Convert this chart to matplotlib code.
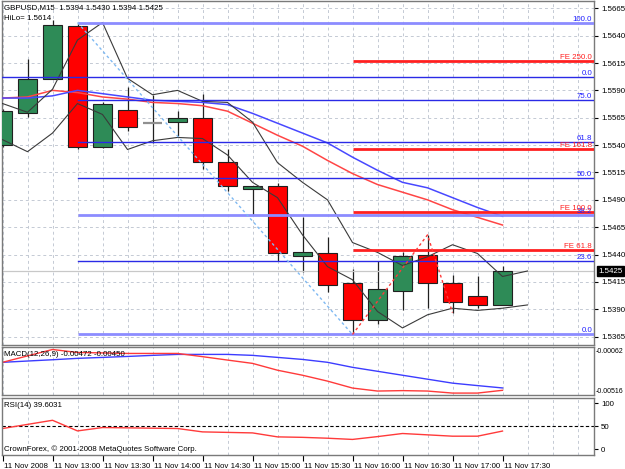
import matplotlib
matplotlib.use('Agg')
import matplotlib.pyplot as plt
from matplotlib.patches import Rectangle
from matplotlib.transforms import ScaledTranslation, blended_transform_factory

plt.rcParams['font.family'] = ['Liberation Sans', 'DejaVu Sans']

# ---------------- data ----------------
bar_times = ["12:30", "12:45", "13:00", "13:15", "13:30", "13:45", "14:00", "14:15",
             "14:30", "14:45", "15:00", "15:15", "15:30", "15:45", "16:00", "16:15",
             "16:30", "16:45", "17:00", "17:15", "17:30"]
opens = [1.5540, 1.5569, 1.5600, 1.5649, 1.5538, 1.5572, 1.5560, 1.5561, 1.5565, 1.5525, 1.5500,
         1.5503, 1.5439, 1.5441, 1.5414, 1.5380, 1.5407, 1.5440, 1.5414, 1.5402, 1.5394]
highs = [1.5573, 1.5619, 1.5654, 1.5652, 1.5579, 1.5593, 1.5586, 1.5571, 1.5587, 1.5536, 1.5503,
         1.5505, 1.5474, 1.5456, 1.5427, 1.5434, 1.5442, 1.5458, 1.5421, 1.5420, 1.5430]
lows = [1.5538, 1.5566, 1.5600, 1.5536, 1.5537, 1.5553, 1.5542, 1.5548, 1.5518, 1.5498, 1.5476,
        1.5434, 1.5424, 1.5406, 1.5367, 1.5377, 1.5389, 1.5391, 1.5387, 1.5391, 1.5394]
closes = [1.5571, 1.5600, 1.5650, 1.5538, 1.5578, 1.5557, 1.5560, 1.5565, 1.5525, 1.5503, 1.5503,
          1.5441, 1.5442, 1.5412, 1.5380, 1.5409, 1.5439, 1.5414, 1.5397, 1.5394, 1.5425]

ma_red = [1.5583, 1.5584, 1.5590, 1.5588, 1.5584, 1.5582, 1.5579, 1.5578, 1.5576, 1.5571, 1.5560,
          1.5549, 1.5539, 1.5526, 1.5514, 1.5504, 1.5497, 1.5490, 1.5481, 1.5474, 1.5467]
ma_blue = [1.5583, 1.5583, 1.5585, 1.5590, 1.5587, 1.5584, 1.5581, 1.5580, 1.5579, 1.5577, 1.5569,
           1.5560, 1.5551, 1.5542, 1.5529, 1.5517, 1.5506, 1.5501, 1.5492, 1.5483, 1.5475]
# envelope lines (one bar longer: shifted forward)
band_upper = [1.5578, 1.5570, 1.5591, 1.5636, 1.5652, 1.5601, 1.5586, 1.5590, 1.5580, 1.5579, 1.5561,
              1.5524, 1.5506, 1.5490, 1.5451, 1.5442, 1.5430, 1.5438, 1.5449, 1.5441, 1.5420, 1.5425]
band_lower = [1.5545, 1.5534, 1.5551, 1.5578, 1.5568, 1.5536, 1.5544, 1.5547, 1.5546, 1.5531, 1.5506,
              1.5492, 1.5458, 1.5429, 1.5417, 1.5388, 1.5373, 1.5385, 1.5391, 1.5389, 1.5391, 1.5394]

macd_main = [-0.00210, -0.00150, -0.00090, -0.00118, -0.00122, -0.00127, -0.00127, -0.00127,
             -0.00157, -0.00189, -0.00220, -0.00284, -0.00331, -0.00386, -0.00451, -0.00479,
             -0.00475, -0.00479, -0.00498, -0.00498, -0.00472]
macd_signal = [-0.00210, -0.00198, -0.00186, -0.00173, -0.00164, -0.00155, -0.00145, -0.00136,
               -0.00136, -0.00136, -0.00145, -0.00164, -0.00183, -0.00210, -0.00257, -0.00294,
               -0.00331, -0.00368, -0.00405, -0.00428, -0.00450]
rsi = [45.1, 54.0, 62.9, 39.9, 47.2, 46.5, 45.8, 45.1, 37.8, 36.7, 35.6, 27.0, 26.0, 24.1, 21.5,
       27.6, 34.3, 31.4, 28.5, 28.5, 39.6]

price_ticks = [1.5365, 1.5390, 1.5415, 1.5440, 1.5465, 1.5490, 1.5515, 1.5540, 1.5565, 1.5590,
               1.5615, 1.5640, 1.5665]
time_labels = ["11 Nov 2008", "11 Nov 13:00", "11 Nov 13:30", "11 Nov 14:00", "11 Nov 14:30",
               "11 Nov 15:00", "11 Nov 15:30", "11 Nov 16:00", "11 Nov 16:30", "11 Nov 17:00",
               "11 Nov 17:30"]

# Fibonacci retracement (label, price, heavy?)
fibo_labels = ["100.0", "75.0", "61.8", "50.0", "38.2", "23.6", "0.0"]
fibo_prices = [1.5652, 1.5581, 1.5543, 1.5510, 1.5476, 1.5434, 1.5367]
fibo_heavy = [True, False, False, False, True, False, True]
fibo_start_bar = 3
extra_level_label = "0.0"
extra_level_price = 1.5602
# Fibonacci expansion
fe_labels = ["FE 250.0", "FE 161.8", "FE 100.0", "FE 61.8"]
fe_prices = [1.5617, 1.5536, 1.5479, 1.5444]
fe_start_bar = 14
# trend lines (bar index, price)
retr_line_bars = [3, 14]
retr_line_prices = [1.5652, 1.5367]
fe_line_bars = [14, 17, 18]
fe_line_prices = [1.5367, 1.5458, 1.5387]
bid = 1.5425
macd_scale_labels = ["-0.00062", "-0.00516"]

# ---------------- layout ----------------
W, H = 625, 469
fig = plt.figure(figsize=(W / 100, H / 100), dpi=100)
fig.patch.set_facecolor('white')


def rect(x0, y0, x1, y1):
    return [x0 / W, 1 - y1 / H, (x1 - x0) / W, (y1 - y0) / H]


ax = fig.add_axes(rect(2, 1.5, 594, 345))
axm = fig.add_axes(rect(2, 346.5, 594, 395))
axr = fig.add_axes(rect(2, 397.5, 594, 455))

XL = (-0.02, 23.66)
FS = 5.7
GRID = dict(color='#c4cad4', linestyle=(0, (3, 3)), linewidth=0.7)
n = len(bar_times)
xs = list(range(n))
xs_band = list(range(len(band_upper)))

for a in (ax, axm, axr):
    a.set_xlim(*XL)
    a.set_facecolor('white')
    for s in a.spines.values():
        s.set_color('#7a7a7a')
        s.set_linewidth(1.0)
    a.set_xticks(range(0, 24), minor=True)
    a.grid(True, which='minor', axis='x', **GRID)
    a.tick_params(which='minor', length=0)
    a.set_axisbelow(True)

# ---------------- main chart ----------------
ax.set_ylim(1.53574, 1.56712)
ax.yaxis.tick_right()
ax.set_yticks(price_ticks)
ax.set_yticklabels([f"{p:.4f}" for p in price_ticks])
ax.tick_params(axis='y', length=3, pad=2, labelsize=FS, width=0.8)
ax.set_xticks([])
ax.grid(True, which='major', axis='y', **GRID)

bw = 0.76
for i in xs:
    o, h, l, c = opens[i], highs[i], lows[i], closes[i]
    ax.vlines(i, l, h, color='#202020', lw=0.9, zorder=2)
    if abs(c - o) < 1e-9:
        ax.hlines(o, i - bw / 2, i + bw / 2, color='#909090', lw=1.6, zorder=3)
    else:
        col = '#2e8b57' if c > o else '#ff0000'
        ax.add_patch(Rectangle((i - bw / 2, min(o, c)), bw, abs(c - o), facecolor=col,
                               edgecolor='#202020', lw=0.8, zorder=3))

ax.axhline(bid, color='#c8c8c8', lw=0.9, zorder=2.5)

ax.plot(xs, ma_red, color='#ff4545', lw=1.1, zorder=4)
ax.plot(xs, ma_blue, color='#4848ff', lw=1.1, zorder=4)
ax.plot(xs_band, band_upper, color='#3a3a3a', lw=0.8, zorder=4)
ax.plot(xs_band, band_lower, color='#3a3a3a', lw=0.8, zorder=4)

tr = blended_transform_factory(ax.transAxes, ax.transData)
lab_x = 1 - 2 / 592
for lab, p, heavy in zip(fibo_labels, fibo_prices, fibo_heavy):
    if heavy:
        ax.plot([fibo_start_bar, XL[1]], [p, p], color='#8c8cff', lw=2.0, zorder=5,
                solid_capstyle='butt')
    else:
        ax.plot([fibo_start_bar, XL[1]], [p, p], color='#2a2ae6', lw=1.0, zorder=5)
    ax.text(lab_x, p, lab, transform=tr, ha='right', va='bottom', fontsize=FS,
            color='#2020ff', zorder=6)
ax.plot([XL[0], XL[1]], [extra_level_price] * 2, color='#2a2ae6', lw=1.0, zorder=5)
ax.text(lab_x, extra_level_price, extra_level_label, transform=tr, ha='right', va='bottom',
        fontsize=FS, color='#2020ff', zorder=6)

for lab, p in zip(fe_labels, fe_prices):
    ax.plot([fe_start_bar, XL[1]], [p, p], color='#ff2020', lw=2.0, zorder=5,
            solid_capstyle='butt')
    ax.text(lab_x, p, lab, transform=tr, ha='right', va='bottom', fontsize=FS,
            color='#ff2020', zorder=6)

ax.plot(retr_line_bars, retr_line_prices, color='#7fb9f2', lw=1.0, ls=(0, (2, 2)), zorder=5)
ax.plot(fe_line_bars, fe_line_prices, color='#ff3b3b', lw=1.0, ls=(0, (2, 2)), zorder=5)

ax.text(1 + 4 / 592, bid, f"{bid:.4f}", transform=tr, ha='left', va='center', fontsize=FS,
        color='white', clip_on=False, zorder=7,
        bbox=dict(boxstyle='square,pad=0.18', fc='black', ec='black'))

fig.text(4 / W, 1 - 7.5 / H, "GBPUSD,M15  1.5394 1.5430 1.5394 1.5425", fontsize=FS,
         va='center', ha='left')
fig.text(4 / W, 1 - 18 / H, "HiLo= 1.5614", fontsize=FS, va='center', ha='left')

# ---------------- MACD ----------------
axm.set_ylim(-0.00516, -0.00062)
axm.set_yticks([])
axm.set_xticks([])
axm.plot(xs, macd_signal, color='#3c3cff', lw=1.0)
axm.plot(xs, macd_main, color='#ff3a3a', lw=1.0)
fig.text(4 / W, 1 - 354 / H, "MACD(12,26,9) -0.00472 -0.00450", fontsize=FS, va='center')
fig.text(596 / W, 1 - 351 / H, macd_scale_labels[0], fontsize=5.0, va='center')
fig.text(596 / W, 1 - 391 / H, macd_scale_labels[1], fontsize=5.0, va='center')

# ---------------- RSI ----------------
axr.set_ylim(-12.2, 112.2)
axr.yaxis.tick_right()
axr.set_yticks([0, 50, 100])
axr.set_yticklabels(["0", "50", "100"])
axr.tick_params(axis='y', length=3, pad=2, labelsize=FS, width=0.8)
axr.axhline(50, color='black', lw=0.8, ls=(0, (3, 2)))
axr.plot(xs, rsi, color='#ff3a3a', lw=1.0)
fig.text(4 / W, 1 - 405 / H, "RSI(14) 39.6031", fontsize=FS, va='center')
fig.text(4 / W, 1 - 449 / H, "CrownForex, \u00a9 2001-2008 MetaQuotes Software Corp.",
         fontsize=FS, va='center')

axr.set_xticks(range(0, 21, 2))
axr.set_xticklabels(time_labels, ha='left', fontsize=FS)
axr.tick_params(axis='x', length=4, pad=1.5, width=0.8)
off = ScaledTranslation(1.5 / 100, 0, fig.dpi_scale_trans)
for lbl in axr.get_xticklabels():
    lbl.set_transform(lbl.get_transform() + off)

fig.savefig('out.png', dpi=100, facecolor='white')
